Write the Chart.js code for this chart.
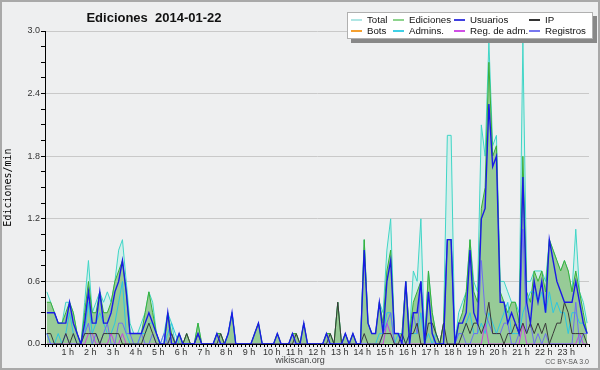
<!DOCTYPE html>
<html>
<head>
<meta charset="utf-8">
<script src="https://cdn.jsdelivr.net/npm/chart.js@4"></script>
<style>
  html, body { margin: 0; padding: 0; background: #eeeff0; }
  #wrap { position: relative; width: 600px; height: 370px; overflow: hidden; }
  #grafico { position: absolute; left: 0; top: 0; }
  #marco { position: absolute; left: 0; top: 0; width: 600px; height: 370px; box-sizing: border-box;
           border: 2px solid #a9a9a9; pointer-events: none; }
  #titulo { position: absolute; left: 0; width: 308px; top: 10px; text-align: center; white-space: pre;
            font: bold 13px "Liberation Sans", sans-serif; color: #111; }
  #leyenda { position: absolute; left: 347px; top: 12px; width: 244px; height: 25px; background: #fff;
             border: 1px solid #b0b0b0; box-shadow: 4px 4px 0 #888; }
  .item { position: absolute; height: 11px; font: 9.7px "Liberation Sans", sans-serif; color: #111; line-height: 11px; white-space: nowrap; }
  .muestra { position: absolute; left: 0; top: 5px; width: 11px; height: 1.5px; }
  .item span { position: absolute; left: 16px; top: 0; }
  #pie { position: absolute; left: 250px; width: 100px; top: 355px; text-align: center;
         font: 9px "Liberation Sans", sans-serif; color: #444; }
  #licencia { position: absolute; right: 11px; top: 358px; font: 7px "Liberation Sans", sans-serif; color: #555; }
</style>
</head>
<body>
<div id="wrap">
  <canvas id="grafico" width="600" height="370"></canvas>
  <div id="titulo">Ediciones  2014-01-22</div>
  <div id="leyenda"></div>
  <div id="pie">wikiscan.org</div>
  <div id="licencia">CC BY-SA 3.0</div>
  <div id="marco"></div>
</div>
<script>
// Ediciones por minuto, una fila por hora (6 tramos de 10 min)
const total = [
  .5, .4, .3, .2, .2, .4,
  .4, .3, .1, 0, .4, .8,
  .3, .4, .5, .4, .5, .4,
  .6, .9, 1.0, .6, .2, .1,
  .1, .2, .3, .5, .4, .1,
  0, .1, .3, .2, 0, .1,
  0, .1, 0, 0, .2, 0,
  0, 0, 0, .1, .1, 0,
  .1, .3, 0, 0, 0, 0,
  0, .1, .2, 0, 0, 0,
  0, .1, 0, 0, 0, .1,
  .1, 0, .2, 0, 0, 0,
  0, 0, .1, .1, 0, .4,
  0, .1, 0, .1, 0, 0,
  1.0, .2, .1, .1, .4, .3,
  .9, 1.2, .1, .1, .1, .6,
  .1, .7, .6, 1.2, 0, .7,
  .3, .1, 0, .2, 2.0, 2.0,
  0, .3, .4, .5, 1.0, .6,
  .5, 2.1, 1.8, 2.9, 1.9, 2.0,
  .6, .6, .5, .4, .4, .3,
  2.9, .6, .6, .7, .7, .7,
  .6, 1.0, .9, .8, .7, .8,
  .7, .5, 1.1, .5, .4, .2
];
const ediciones = [
  .4, .4, .3, .2, .2, .3,
  .4, .3, .1, 0, .3, .6,
  .3, .3, .5, .3, .3, .4,
  .6, .7, .8, .5, .1, .1,
  .1, .1, .3, .5, .3, .1,
  0, 0, .3, .1, 0, .1,
  0, .1, 0, 0, .2, 0,
  0, 0, 0, .1, .1, 0,
  .1, .3, 0, 0, 0, 0,
  0, .1, .2, 0, 0, 0,
  0, .1, 0, 0, 0, .1,
  .1, 0, .2, 0, 0, 0,
  0, 0, .1, .1, 0, .4,
  0, .1, 0, .1, 0, 0,
  1.0, .2, .1, .1, .4, .2,
  .7, .9, .1, .1, .1, .6,
  .1, .4, .5, .6, 0, .7,
  .3, .1, 0, .2, 1.0, 1.0,
  0, .2, .3, .5, 1.0, .5,
  .4, 1.3, 1.5, 2.7, 1.8, 1.9,
  .5, .4, .3, .4, .4, .2,
  1.8, .5, .4, .7, .6, .7,
  .5, 1.0, .9, .8, .7, .8,
  .7, .5, .7, .5, .3, .1
];
const usuarios = [
  .3, .3, .3, .2, .2, .2,
  .4, .2, .1, 0, .2, .5,
  .2, .2, .5, .2, .2, .3,
  .5, .6, .8, .5, .1, .1,
  .1, .1, .2, .3, .2, .1,
  0, 0, .3, 0, 0, .1,
  0, 0, 0, 0, .1, 0,
  0, 0, 0, .1, 0, 0,
  .1, .3, 0, 0, 0, 0,
  0, .1, .2, 0, 0, 0,
  0, .1, 0, 0, 0, .1,
  0, 0, .2, 0, 0, 0,
  0, 0, .1, 0, 0, 0,
  0, .1, 0, .1, 0, 0,
  .9, .2, .1, .1, .4, .1,
  .6, .8, .1, .1, 0, .6,
  0, .3, .3, .6, 0, .5,
  .1, 0, 0, 0, 1.0, 1.0,
  0, .2, .2, .3, .9, .3,
  .2, 1.2, 1.3, 2.3, 1.7, 1.8,
  .4, .4, .2, .3, .2, .1,
  1.6, .4, .2, .6, .4, .6,
  .3, 1.0, .8, .6, .5, .4,
  .4, .4, .6, .4, .2, .1
];
const ip = [
  .1, .1, 0, 0, 0, .1,
  0, .1, 0, 0, .1, .1,
  .1, .1, 0, .1, .1, .1,
  .1, .1, 0, 0, 0, 0,
  0, 0, .1, .2, .1, 0,
  0, 0, 0, .1, 0, 0,
  0, .1, 0, 0, .1, 0,
  0, 0, 0, 0, .1, 0,
  0, 0, 0, 0, 0, 0,
  0, 0, 0, 0, 0, 0,
  0, 0, 0, 0, 0, 0,
  .1, 0, 0, 0, 0, 0,
  0, 0, 0, .1, 0, .4,
  0, 0, 0, 0, 0, 0,
  .1, 0, 0, 0, 0, .1,
  .1, .1, 0, 0, .1, 0,
  .1, .1, .2, 0, 0, .2,
  .2, .1, 0, .2, 0, 0,
  0, 0, .1, .2, .1, .2,
  .2, .1, .2, .4, .1, .1,
  .1, 0, .1, .1, .2, .1,
  .2, .1, .2, .1, .2, .1,
  .2, 0, .1, .2, .2, .4,
  .3, .1, .1, .1, .1, 0
];
const bots = [];
const admins = [
  .1, 0, 0, .1, 0, .1,
  .3, .1, 0, 0, .1, .4,
  .1, .2, .3, .2, .1, .1,
  .2, .4, .6, .1, 0, 0,
  0, .1, .1, .2, .2, .1,
  0, 0, .1, .2, .1, 0,
  0, 0, 0, 0, 0, 0,
  0, 0, 0, 0, 0, 0,
  .1, .3, 0, 0, 0, 0,
  0, 0, 0, 0, 0, 0,
  0, 0, 0, 0, 0, 0,
  0, 0, 0, 0, 0, 0,
  0, 0, 0, 0, 0, 0,
  0, 0, 0, 0, 0, 0,
  0, 0, 0, 0, .1, .1,
  .3, .3, 0, .1, .1, 0,
  .1, .1, .1, .3, 0, .1,
  0, .1, 0, 0, 0, 0,
  0, .1, .1, .2, .3, .1,
  .1, .2, .1, .3, .2, .1,
  .2, .3, .4, .1, .1, .1,
  .3, .4, .5, .5, .4, .5,
  .3, .5, .3, .4, .3, .3,
  .1, .3, .3, .2, .2, .1
];
const regAdm = [
  0, 0, 0, 0, 0, 0,
  0, 0, 0, 0, 0, .1,
  .1, 0, 0, 0, 0, .1,
  0, 0, .1, 0, 0, 0,
  0, 0, 0, 0, 0, 0,
  0, 0, 0, 0, 0, 0,
  0, 0, 0, 0, 0, 0,
  0, 0, 0, 0, 0, 0,
  0, 0, 0, 0, 0, 0,
  0, 0, 0, 0, 0, 0,
  0, 0, 0, 0, 0, 0,
  0, 0, 0, 0, 0, 0,
  0, 0, 0, 0, 0, 0,
  0, 0, 0, 0, 0, 0,
  0, 0, 0, 0, 0, 0,
  .2, .1, 0, 0, 0, 0,
  0, 0, 0, 0, 0, 0,
  0, 0, 0, 0, 0, 0,
  0, 0, 0, 0, 0, 0,
  0, 0, .2, 0, 0, 0,
  0, 0, 0, 0, 0, 0,
  .2, 0, 0, 0, 0, 0,
  0, 0, 0, 0, 0, 0,
  0, 0, 0, .1, 0, 0
];
const registros = [
  .1, 0, 0, 0, 0, .1,
  0, 0, 0, 0, .1, .2,
  0, .1, 0, .1, .2, 0,
  0, .2, .2, .1, .1, 0,
  0, .1, 0, 0, .1, 0,
  0, .1, 0, .1, 0, 0,
  0, 0, 0, 0, 0, 0,
  0, 0, 0, 0, 0, 0,
  0, 0, 0, 0, 0, 0,
  0, 0, 0, 0, 0, 0,
  0, 0, 0, 0, 0, 0,
  0, 0, 0, 0, 0, 0,
  0, 0, 0, 0, 0, 0,
  0, 0, 0, 0, 0, 0,
  0, 0, 0, 0, 0, .1,
  .2, .3, 0, 0, 0, 0,
  0, .3, .1, .6, 0, 0,
  0, 0, 0, 0, 1.0, 1.0,
  0, .1, .1, 0, 0, .1,
  .1, .8, .3, .2, .1, .1,
  .1, .2, .2, 0, 0, .1,
  1.1, .1, .2, 0, .1, 0,
  .1, 0, 0, 0, 0, 0,
  0, 0, .4, 0, .1, .1
];

// centro de cada tramo de 10 minutos (minutos desde las 0 h)
const minutos = Array.from({ length: 144 }, (_, i) => i * 10 + 5);

const leyendaNombres = ['Total', 'Ediciones', 'Usuarios', 'IP', 'Bots', 'Admins.', 'Reg. de adm.', 'Registros'];
const leyendaColores = ['#b0e6e4', '#8ed48e', '#4040e0', '#333333', '#f5a030', '#40d0e6', '#d050e6', '#7878f0'];

// leyenda en 4 columnas x 2 filas
const colX = [3, 45, 106, 181];
const filaY = [1, 12];
const leyenda = document.getElementById('leyenda');
leyendaNombres.forEach((nombre, i) => {
  const d = document.createElement('div');
  d.className = 'item';
  d.style.left = colX[i % 4] + 'px';
  d.style.top = filaY[Math.floor(i / 4)] + 'px';
  d.innerHTML = `<div class="muestra" style="background:${leyendaColores[i]}"></div><span>${nombre}</span>`;
  leyenda.appendChild(d);
});

const fuente = 'Liberation Sans';

new Chart(document.getElementById('grafico'), {
  type: 'line',
  data: {
    labels: minutos,
    datasets: [
      { label: 'Total', data: total, borderColor: '#3fd5c6', backgroundColor: '#d3efeb', fill: 'origin', order: 8 },
      { label: 'Ediciones', data: ediciones, borderColor: '#38b038', backgroundColor: '#97cb97', fill: 'origin', order: 7 },
      { label: 'Bots', data: bots, borderColor: '#f0a030', order: 6 },
      { label: 'Admins.', data: admins, borderColor: '#2cc6e2', order: 5 },
      { label: 'Reg. de adm.', data: regAdm, borderColor: '#c844e0', order: 4 },
      { label: 'Registros', data: registros, borderColor: '#6e6ef2', order: 3 },
      { label: 'IP', data: ip, borderColor: '#3a3a3a', order: 2 },
      { label: 'Usuarios', data: usuarios, borderColor: '#1a1ae6', borderWidth: 1.4, order: 1 },
    ],
  },
  options: {
    responsive: false,
    animation: false,
    layout: { padding: { top: 31, right: 11, left: 0, bottom: 0 } },
    plugins: { legend: { display: false }, tooltip: { enabled: false } },
    elements: { point: { radius: 0 }, line: { tension: 0, borderWidth: 1 } },
    scales: {
      x: {
        type: 'linear', min: 0, max: 1440, z: 1,
        afterFit: (s) => { s.height = 26; },
        border: { color: '#000', width: 1 },
        grid: { drawOnChartArea: false, color: '#000', tickLength: 3 },
        ticks: {
          stepSize: 10, autoSkip: false, maxRotation: 0, padding: 0, color: '#333',
          font: { family: fuente, size: 9 },
          callback: (v) => (v % 60 === 0 && v > 0 && v < 1440 ? `${v / 60} h` : ''),
        },
      },
      y: {
        min: 0, max: 3,
        afterFit: (s) => { s.width = 45; },
        border: { color: '#000', width: 1 },
        grid: {
          color: (c) => (Math.round(c.tick.value * 100) % 60 === 0 ? '#c9c9c9' : 'rgba(0,0,0,0)'),
          tickColor: '#000', tickLength: 4,
        },
        ticks: {
          stepSize: 0.15, autoSkip: false, padding: 1, color: '#333',
          font: { family: fuente, size: 9 },
          callback: (v) => (Math.round(v * 100) % 60 === 0 ? v.toFixed(1) : ''),
        },
        title: { display: true, text: 'Ediciones/min', color: '#000', font: { family: 'DejaVu Sans Mono', size: 10 }, padding: { top: 2, bottom: 2 } },
      },
    },
  },
});
</script>
</body>
</html>
